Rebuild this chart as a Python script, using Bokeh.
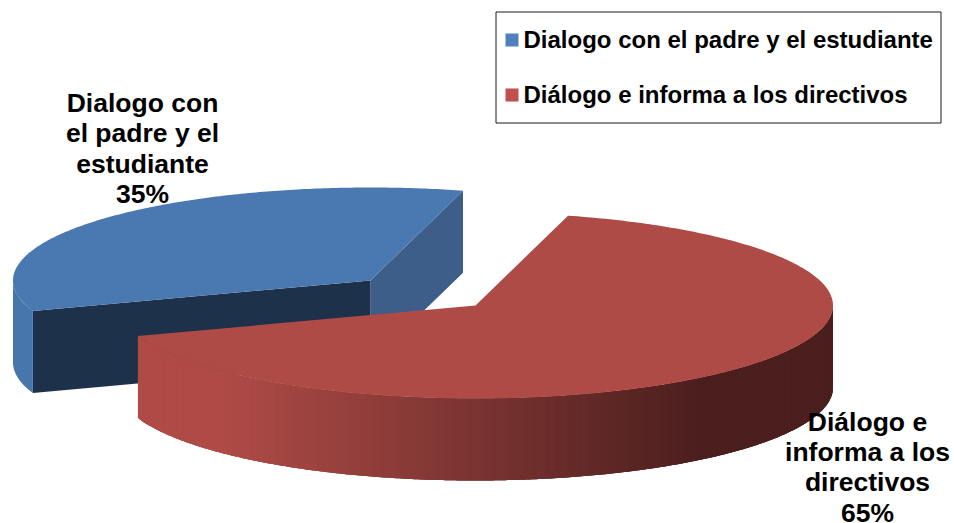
import numpy as np
from bokeh.plotting import figure
from bokeh.models import Range1d, ColumnDataSource
from bokeh.core.properties import value
from bokeh.embed import file_html
from bokeh.resources import INLINE

categories = ["Dialogo con el padre y el estudiante", "Diálogo e informa a los directivos"]
shares = [34.5, 65.5]
label_lines = [["Dialogo con", "el padre y el", "estudiante", "35%"],
               ["Diálogo e", "informa a los", "directivos", "65%"]]

W, H = 954, 523
FONT = value("Liberation Sans")
RX, RY, DEPTH = 357.5, 93, 82
START = 75.0
BLUE_C, RED_C = (370, 280), (475, 305)

p = figure(width=W, height=H, output_backend="svg", toolbar_location=None,
           x_range=Range1d(0, W), y_range=Range1d(H, 0),
           min_border=0, outline_line_color=None, x_axis_type=None, y_axis_type=None,
           background_fill_color="white", border_fill_color="white")
p.grid.visible = False

def rim(c, a0, a1, n=200):
    t = np.radians(np.linspace(a0, a1, n))
    return c[0] + RX * np.cos(t), c[1] - RY * np.sin(t)

def lerp(a, b, f):
    return tuple(int(round(a[i] + (b[i] - a[i]) * f)) for i in range(3))

def hexc(c):
    return "#%02x%02x%02x" % c

blue_span = 360 * shares[0] / sum(shares)
red_span = 360 * shares[1] / sum(shares)
b0, b1 = START, START + blue_span
r0, r1 = START - red_span, START

# blue cut faces
bx, by = rim(BLUE_C, b0, b1)
p.patch([BLUE_C[0], bx[0], bx[0], BLUE_C[0]], [BLUE_C[1], by[0], by[0] + DEPTH, BLUE_C[1] + DEPTH],
        fill_color="#3c5e89", line_color=None)
p.patch([BLUE_C[0], bx[-1], bx[-1], BLUE_C[0]], [BLUE_C[1], by[-1], by[-1] + DEPTH, BLUE_C[1] + DEPTH],
        fill_color="#1e314b", line_color=None)
# blue outer wall
wx, wy = rim(BLUE_C, 180, b1, 40)
p.patch(list(wx) + list(wx[::-1]), list(wy) + list((wy + DEPTH)[::-1]),
        fill_color="#4776ad", line_color=None)
# blue top
p.patch([BLUE_C[0]] + list(bx), [BLUE_C[1]] + list(by), fill_color="#4a78b0", line_color=None)

# red outer wall: bands run left to right, each overlapping the next so no seams show
LIGHT, DARK = (175, 75, 71), (75, 31, 30)
edges = np.arange(r0, 0.5, 0.5)
rx_, ry_ = rim(RED_C, edges[0], edges[-1], len(edges))
xs, ys, cols = [], [], []
for i in range(len(edges) - 1):
    j = min(i + 3, len(edges) - 1)
    mx = rx_[i : j + 1]
    my = ry_[i : j + 1]
    xs.append(list(mx) + list(mx[::-1]))
    ys.append(list(my) + list((my + DEPTH)[::-1]))
    f = min(1, max(0, ((rx_[i] + rx_[i + 1]) / 2 - 225) / (700 - 225)))
    cols.append(hexc(lerp(LIGHT, DARK, f)))
p.patches("xs", "ys", source=ColumnDataSource(dict(xs=xs, ys=ys, c=cols)),
          fill_color="c", line_color=None)
# red top
tx, ty = rim(RED_C, r0, r1, 300)
p.patch([RED_C[0]] + list(tx), [RED_C[1]] + list(ty), fill_color="#af4b47", line_color=None)

# data labels
for lines, cx, base, step in zip(label_lines, [142, 867], [102.5, 421], [30.4, 30.4]):
    for i, s in enumerate(lines):
        p.text([cx], [base + i * step], text=[s], text_font=FONT, text_font_style="bold",
               text_font_size="26.5px", text_align="center", text_baseline="middle", text_color="black")

# legend
p.quad(left=[495.5], right=[940.5], top=[11.5], bottom=[122.5], fill_color="white", line_color="#1a1a1a", line_width=1)
p.quad(left=[505, 505], right=[518, 518], top=[33, 88], bottom=[46, 101],
       fill_color=["#4f81bd", "#c0504d"], line_color=None)
p.text([523, 523], [39, 94], text=categories, text_font=FONT, text_font_style="bold",
       text_font_size="24px", text_align="left", text_baseline="middle", text_color="black")

open("out.html", "w").write(file_html(p, INLINE))
